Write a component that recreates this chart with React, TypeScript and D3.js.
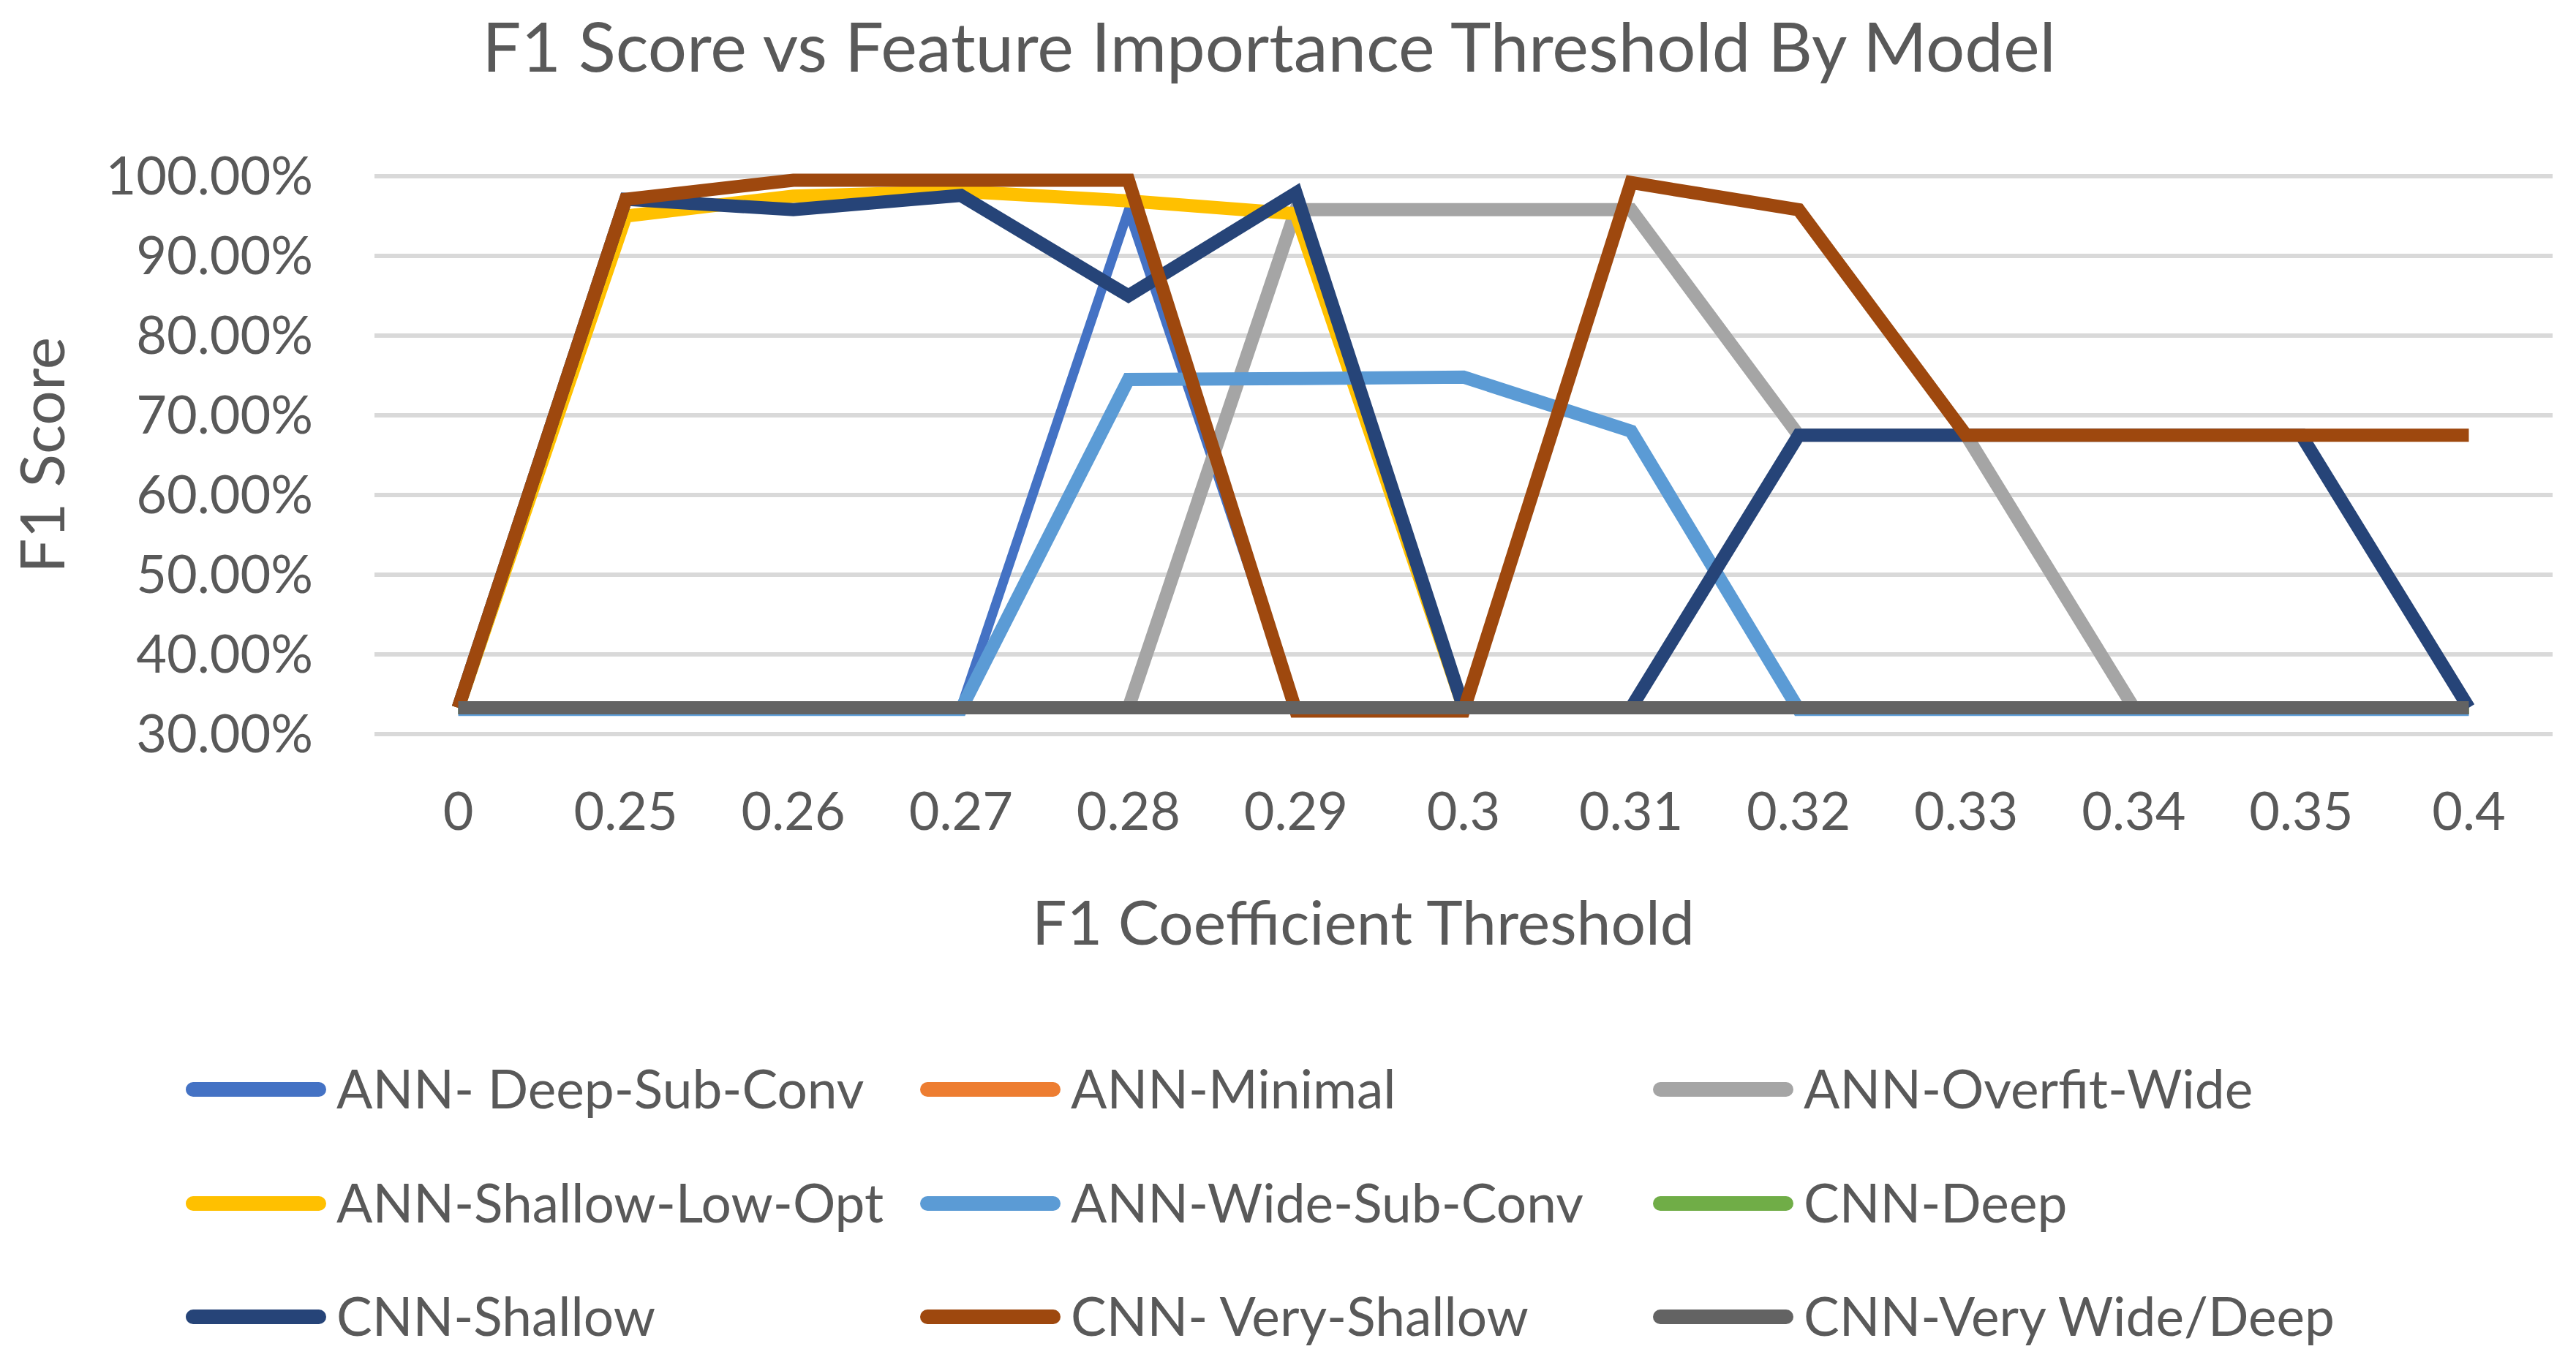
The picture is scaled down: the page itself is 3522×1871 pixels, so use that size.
import React from 'react';
import * as d3 from 'd3';

// thresholds on the category axis
const categories = ['0', '0.25', '0.26', '0.27', '0.28', '0.29', '0.3', '0.31', '0.32', '0.33', '0.34', '0.35', '0.4'];

// F1 score per model
const annDeepSubConv = [0.333, 0.333, 0.333, 0.333, 0.957, 0.333, 0.333, 0.333, 0.333, 0.333, 0.333, 0.333, 0.333];
const annMinimal = [0.333, 0.333, 0.333, 0.333, 0.333, 0.333, 0.333, 0.333, 0.333, 0.333, 0.333, 0.333, 0.333];
const annOverfitWide = [0.333, 0.333, 0.333, 0.333, 0.333, 0.958, 0.958, 0.958, 0.675, 0.675, 0.333, 0.333, 0.333];
const annShallowLowOpt = [0.333, 0.95, 0.975, 0.981, 0.969, 0.953, 0.333, 0.333, 0.333, 0.333, 0.333, 0.333, 0.333];
const annWideSubConv = [0.331, 0.331, 0.331, 0.331, 0.745, 0.746, 0.748, 0.68, 0.331, 0.331, 0.331, 0.331, 0.331];
const cnnDeep = [0.333, 0.333, 0.333, 0.333, 0.333, 0.333, 0.333, 0.333, 0.333, 0.333, 0.333, 0.333, 0.333];
const cnnShallow = [0.333, 0.971, 0.958, 0.976, 0.85, 0.979, 0.333, 0.333, 0.675, 0.675, 0.675, 0.675, 0.333];
const cnnVeryShallow = [0.333, 0.971, 0.995, 0.995, 0.995, 0.329, 0.329, 0.992, 0.958, 0.675, 0.675, 0.675, 0.675];
const cnnVeryWideDeep = [0.333, 0.333, 0.333, 0.333, 0.333, 0.333, 0.333, 0.333, 0.333, 0.333, 0.333, 0.333, 0.333];

const seriesNames = ['ANN- Deep-Sub-Conv', 'ANN-Minimal', 'ANN-Overfit-Wide', 'ANN-Shallow-Low-Opt', 'ANN-Wide-Sub-Conv', 'CNN-Deep', 'CNN-Shallow', 'CNN- Very-Shallow', 'CNN-Very Wide/Deep'];
const seriesValues = [annDeepSubConv, annMinimal, annOverfitWide, annShallowLowOpt, annWideSubConv, cnnDeep, cnnShallow, cnnVeryShallow, cnnVeryWideDeep];
const seriesColors = ['#4472C4', '#ED7D31', '#A5A5A5', '#FFC000', '#5B9BD5', '#70AD47', '#264478', '#9E480E', '#636363'];

const yTicks = [0.3, 0.4, 0.5, 0.6, 0.7, 0.8, 0.9, 1.0];

const W = 3522;
const H = 1871;
const FONT = 'Lato, "Open Sans", sans-serif';
const TEXT = '#595959';

export default function App() {
  const x = d3.scalePoint<string>().domain(categories).range([512, 3490]).padding(0.5);
  const y = d3.scaleLinear().domain([0.3, 1.0]).range([1004, 241]);
  const fmt = d3.format('.2%');

  const line = d3.line<number>()
    .x((_, i) => x(categories[i]) as number)
    .y(d => y(d));

  // legend: 3 columns x 3 rows
  const legX = [254, 1258, 2260];
  const legY = [1490, 1646, 1801];

  return (
    <div style={{ position: 'absolute', left: 0, top: 0 }}>
      <svg width={W} height={H} style={{ display: 'block', background: '#fff' }}>
        <text x={1735} y={98} textAnchor="middle" fontFamily={FONT} fontSize={94} fill={TEXT}>
          F1 Score vs Feature Importance Threshold By Model
        </text>

        {/* gridlines */}
        {yTicks.map(t => (
          <line key={t} x1={512} x2={3490} y1={y(t)} y2={y(t)} stroke="#D9D9D9" strokeWidth={6} />
        ))}

        {/* y tick labels */}
        {yTicks.map(t => (
          <text key={'l' + t} x={428} y={y(t)} dy="0.35em" textAnchor="end" fontFamily={FONT} fontSize={72} fill={TEXT}>
            {fmt(t)}
          </text>
        ))}

        {/* x tick labels */}
        {categories.map(c => (
          <text key={c} x={x(c)} y={1135} textAnchor="middle" fontFamily={FONT} fontSize={72} fill={TEXT}>
            {c}
          </text>
        ))}

        {/* axis titles */}
        <text x={1864} y={1292} textAnchor="middle" fontFamily={FONT} fontSize={84} fill={TEXT}>
          F1 Coefficient Threshold
        </text>
        <text transform={`translate(88,${(y(0.3) + y(1.0)) / 2}) rotate(-90)`} textAnchor="middle" fontFamily={FONT} fontSize={84} fill={TEXT}>
          F1 Score
        </text>

        {/* series */}
        {seriesValues.map((vals, i) => (
          <path key={seriesNames[i]} d={line(vals) || ''} fill="none" stroke={seriesColors[i]}
            strokeWidth={i === 0 ? 13 : 18} strokeLinejoin="miter" strokeLinecap="butt" />
        ))}

        {/* legend */}
        {seriesNames.map((name, i) => {
          const lx = legX[i % 3];
          const ly = legY[Math.floor(i / 3)];
          return (
            <g key={'leg' + name}>
              <line x1={lx + 10} x2={lx + 182} y1={ly} y2={ly} stroke={seriesColors[i]} strokeWidth={20} strokeLinecap="round" />
              <text x={lx + 206} y={ly} dy="0.35em" fontFamily={FONT} fontSize={73} fill={TEXT}>{name}</text>
            </g>
          );
        })}
      </svg>
    </div>
  );
}
